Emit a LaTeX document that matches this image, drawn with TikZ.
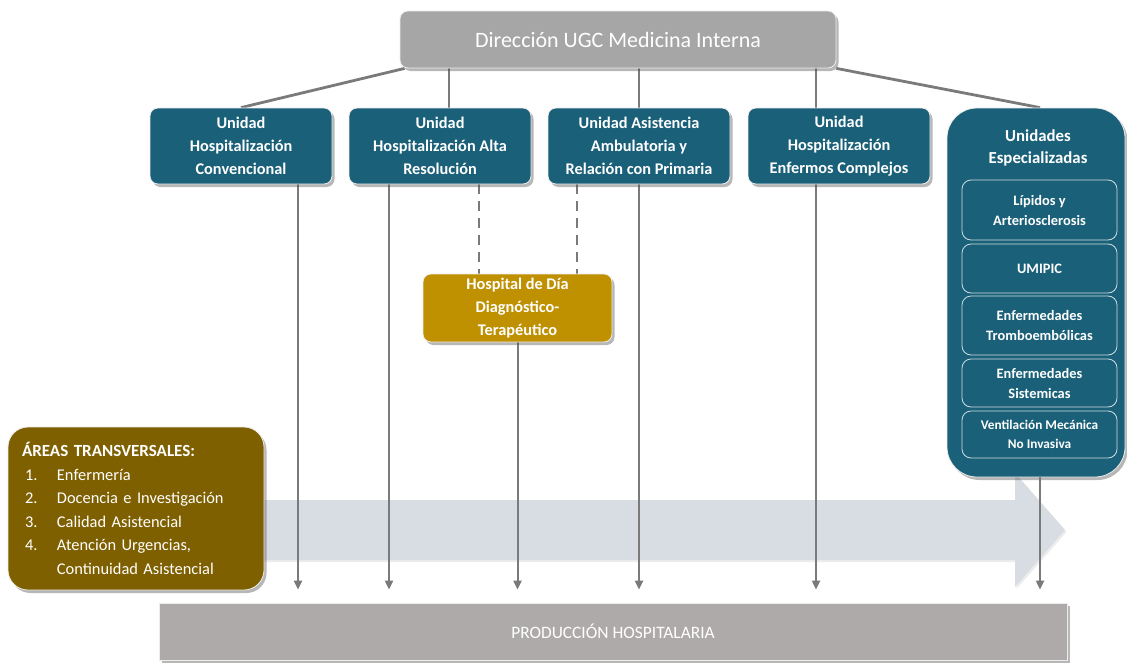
\documentclass[tikz,border=0pt]{standalone}
\usepackage{fontspec}
\setmainfont{Carlito}
\usetikzlibrary{shadows,arrows.meta,backgrounds}
\definecolor{ugcteal}{HTML}{1A6079}
\definecolor{dirgray}{HTML}{A6A6A6}
\definecolor{prodgray}{HTML}{AEAAAA}
\definecolor{hdgold}{HTML}{BF9000}
\definecolor{areabrown}{HTML}{7F6000}
\definecolor{bandfill}{HTML}{D8DDE3}
\definecolor{conngray}{HTML}{7A7A7A}
\begin{document}
\begin{tikzpicture}[x=1pt,y=-1pt,
  shad/.style={drop shadow={shadow xshift=2.5pt,shadow yshift=-3pt,opacity=0.4,fill=black!70}},
  boxbase/.style={shad,draw=white!85!gray,line width=0.8pt,text=white,align=center,inner sep=0pt},
  unitbox/.style={boxbase,rounded corners=8pt,fill=ugcteal,minimum width=182pt,minimum height=76pt,
    font=\fontsize{16.3}{23}\selectfont\bfseries},
  specbox/.style={boxbase,rounded corners=30pt,fill=ugcteal,minimum width=178pt,minimum height=369pt},
  spectitle/.style={text=white,align=center,font=\fontsize{16.8}{22}\selectfont\bfseries},
  subbox/.style={draw=white!80!ugcteal,line width=0.8pt,rounded corners=9pt,text=white,align=center,
    minimum width=155pt,inner sep=0pt,font=\fontsize{14.4}{20}\selectfont\bfseries},
  dirbox/.style={boxbase,rounded corners=8pt,fill=dirgray,minimum width=436pt,minimum height=57pt,
    font=\fontsize{22}{26}\selectfont},
  hdbox/.style={boxbase,rounded corners=8pt,fill=hdgold,minimum width=189pt,minimum height=68pt,
    font=\fontsize{16.3}{23}\selectfont\bfseries},
  areabox/.style={boxbase,rounded corners=20pt,fill=areabrown,minimum width=256pt,minimum height=163pt,
    text width=228pt,inner xsep=14pt,align=left,font=\fontsize{16.4}{23.6}\selectfont},
  prodbox/.style={boxbase,rounded corners=0pt,fill=prodgray,minimum width=908pt,minimum height=57pt,
    font=\fontsize{17.4}{20}\selectfont},
  topconn/.style={draw=conngray,line width=2.8pt},
  arr/.style={draw=conngray,line width=2pt,-{Triangle[width=8pt,length=9pt]},shorten >=13pt},
  dashconn/.style={draw=conngray,line width=2.8pt,dash pattern=on 10pt off 7pt}
]
\useasboundingbox (0,0) rectangle (1127,664);

% nodes
\node[dirbox] (dir) at (618,39.5) {Dirección UGC Medicina Interna};
\node[unitbox] (u1) at (241,146) {Unidad\\Hospitalización\\Convencional};
\node[unitbox] (u2) at (440,146) {Unidad\\Hospitalización Alta\\Resolución};
\node[unitbox] (u3) at (639,146) {Unidad Asistencia\\Ambulatoria y\\Relación con Primaria};
\node[unitbox] (u4) at (839,146) {Unidad\\Hospitalización\\Enfermos Complejos};
\node[specbox] (u5) at (1036,292.5) {};
\node[spectitle] (u5t) at (1038,148) {Unidades\\Especializadas};
\node[subbox,minimum height=60pt] (s1) at (1039.5,210) {Lípidos y\\Arteriosclerosis};
\node[subbox,minimum height=49pt] (s2) at (1039.5,268.5) {UMIPIC};
\node[subbox,minimum height=59pt] (s3) at (1039.5,325.5) {Enfermedades\\Tromboembólicas};
\node[subbox,minimum height=48pt] (s4) at (1039.5,383) {Enfermedades\\Sistemicas};
\node[subbox,minimum height=47pt,font=\fontsize{13.3}{19}\selectfont\bfseries] (s5) at (1039.5,434.5) {Ventilación Mecánica\\No Invasiva};
\node[hdbox] (hd) at (517.5,308) {Hospital de Día\\Diagnóstico-\\Terapéutico};
\node[areabox] (areas) at (136,508.5) {{\fontsize{17}{23.6}\selectfont\bfseries ÁREAS TRANSVERSALES:}\\
\makebox[35pt][l]{\hspace{3pt}1.}Enfermería\\
\makebox[35pt][l]{\hspace{3pt}2.}Docencia e Investigación\\
\makebox[35pt][l]{\hspace{3pt}3.}Calidad Asistencial\\
\makebox[35pt][l]{\hspace{3pt}4.}Atención Urgencias,\\
\makebox[35pt][l]{}Continuidad Asistencial};
\node[prodbox] (prod) at (613,631.5) {PRODUCCIÓN HOSPITALARIA};

\begin{scope}[on background layer]
  % big light arrow
  \fill[bandfill,drop shadow={shadow xshift=1.5pt,shadow yshift=-2pt,opacity=0.15}]
    (255,500) -- (1015,500) -- (1015,473) -- (1065,530) -- (1015,587) -- (1015,560) -- (255,560) -- cycle;
  % top connectors
  \draw[topconn] ([xshift=5pt]dir.south west) -- (u1.north);
  \draw[topconn] ([xshift=9pt]u2.north) -- ([xshift=9pt]u2.north |- dir.south);
  \draw[topconn] (u3.north) -- (u3.north |- dir.south);
  \draw[topconn] ([xshift=-23pt]u4.north) -- ([xshift=-23pt]u4.north |- dir.south);
  \draw[topconn] (dir.south east) -- ([xshift=4pt]u5.north);
  % dashed
  \draw[dashconn] ([xshift=39pt]u2.south) -- ([xshift=39pt]u2.south |- hd.north);
  \draw[dashconn] ([xshift=-62pt]u3.south) -- ([xshift=-62pt]u3.south |- hd.north);
  % vertical arrows
  \draw[arr] ([xshift=57pt]u1.south) -- ([xshift=57pt]u1.south |- prod.north);
  \draw[arr] ([xshift=-51pt]u2.south) -- ([xshift=-51pt]u2.south |- prod.north);
  \draw[arr] (hd.south) -- (hd.south |- prod.north);
  \draw[arr] (u3.south) -- (u3.south |- prod.north);
  \draw[arr] ([xshift=-23pt]u4.south) -- ([xshift=-23pt]u4.south |- prod.north);
\end{scope}
\draw[arr] ([xshift=4pt]u5.south) -- ([xshift=4pt]u5.south |- prod.north);
\end{tikzpicture}
\end{document}
